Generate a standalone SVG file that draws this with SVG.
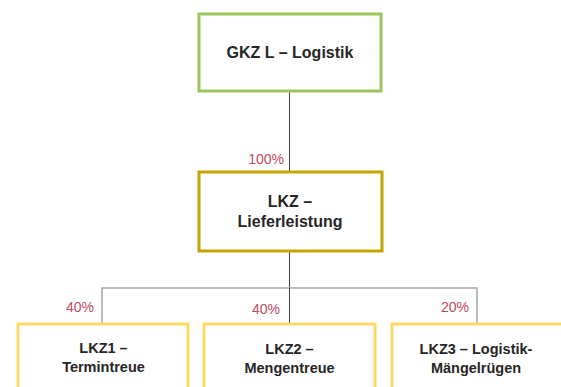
<svg xmlns="http://www.w3.org/2000/svg" width="561" height="387" viewBox="0 0 561 387">
<style>
.box{fill:#fff}
.t{font-family:"Liberation Sans",Arial,sans-serif;font-weight:bold;fill:#262626;text-anchor:middle}
.p{font-family:"Liberation Sans",Arial,sans-serif;font-size:14px;fill:#BE4B5E;text-anchor:end}
.dk{stroke:#404040;stroke-width:1;fill:none}
.lt{stroke:#A6A6A6;stroke-width:1.5;fill:none}
</style>
<rect width="561" height="387" fill="#fff"/>
<g id="connectors">
<line class="dk" x1="289.5" y1="91" x2="289.5" y2="172"/>
<line class="dk" x1="289.5" y1="251" x2="289.5" y2="288"/>
<polyline class="lt" points="102,324 102,288 477,288 477,324"/>
<line class="dk" x1="289.5" y1="288" x2="289.5" y2="324"/>
<text class="p" x="284" y="164">100%</text>
<text class="p" x="94" y="312">40%</text>
<text class="p" x="280" y="314">40%</text>
<text class="p" x="469" y="312">20%</text>
</g>
<g id="gkz">
<rect class="box" x="199" y="14" width="182" height="77" stroke="#9BC45A" stroke-width="3"/>
<text class="t" x="290" y="58" font-size="16">GKZ L – Logistik</text>
</g>
<g id="lkz">
<rect class="box" x="199" y="172" width="183" height="79" stroke="#C5A500" stroke-width="3"/>
<text class="t" x="290" y="207" font-size="16">LKZ –</text>
<text class="t" x="290" y="227" font-size="16">Lieferleistung</text>
</g>
<g id="lkz1">
<rect class="box" x="18" y="324" width="170" height="80" stroke="#FFD966" stroke-width="3"/>
<text class="t" x="103.5" y="353" font-size="14.5">LKZ1 –</text>
<text class="t" x="103.5" y="372" font-size="14.5">Termintreue</text>
</g>
<g id="lkz2">
<rect class="box" x="204" y="324" width="171" height="80" stroke="#FFD966" stroke-width="3"/>
<text class="t" x="289.5" y="354" font-size="14.5">LKZ2 –</text>
<text class="t" x="289.5" y="373" font-size="14.5">Mengentreue</text>
</g>
<g id="lkz3">
<rect class="box" x="392" y="324" width="171" height="80" stroke="#FFD966" stroke-width="3"/>
<text class="t" x="476" y="354" font-size="14.5">LKZ3 – Logistik-</text>
<text class="t" x="476" y="373" font-size="14.5">Mängelrügen</text>
</g>
</svg>
